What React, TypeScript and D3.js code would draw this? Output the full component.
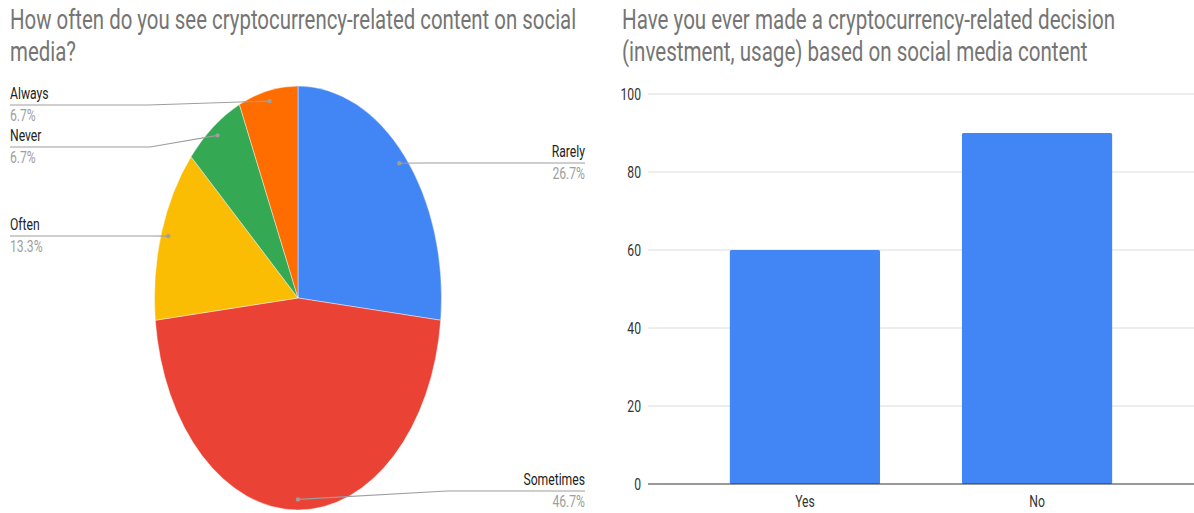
import React from "react";
import * as d3 from "d3";

const pieTitle = ["How often do you see cryptocurrency-related content on social", "media?"];
const barTitle = ["Have you ever made a cryptocurrency-related decision", "(investment, usage) based on social media content"];

const pieCategories = ["Rarely", "Sometimes", "Often", "Never", "Always"];
const pieValues = [26.7, 46.7, 13.3, 6.7, 6.7];
const pieColors = ["#4285F4", "#EA4335", "#FBBC04", "#34A853", "#FF6D01"];

const barCategories = ["Yes", "No"];
const barValues = [60, 90];
const yTicks = [0, 20, 40, 60, 80, 100];

const W = 1194;
const H = 513;
const SX = 0.76; // horizontal text compression seen in the picture
const FONT = "Roboto, Arial, sans-serif";

// label layout (positions only)
const labelLayout: Record<string, { side: "left" | "right"; lineY: number; elbowX: number; endX: number }> = {
  Rarely: { side: "right", lineY: 163, elbowX: 420, endX: 585 },
  Sometimes: { side: "right", lineY: 491, elbowX: 447, endX: 585 },
  Often: { side: "left", lineY: 236, elbowX: 150, endX: 10 },
  Never: { side: "left", lineY: 147, elbowX: 150, endX: 10 },
  Always: { side: "left", lineY: 105, elbowX: 148, endX: 10 },
};

function SText({ x, y, children, size, fill, anchor = "start", sx = SX, weight = 400 }: any) {
  return (
    <text
      transform={`translate(${x},${y}) scale(${sx},1)`}
      fontFamily={FONT}
      fontSize={size}
      fill={fill}
      fontWeight={weight}
      textAnchor={anchor}
    >
      {children}
    </text>
  );
}

export default function App() {
  // Pie
  const cx = 298;
  const cy = 298;
  const ry = 212;
  const rx = 143.5;
  const pie = d3.pie<number>().sort(null).value((d) => d)(pieValues);
  const arc = d3.arc<d3.PieArcDatum<number>>().innerRadius(0).outerRadius(ry);

  // Bars
  const y = d3.scaleLinear().domain([0, 100]).range([484, 94]);
  const x = d3.scaleBand<string>().domain(barCategories).range([689, 1153]).paddingInner(0.353).paddingOuter(0.176);

  return (
    <svg width={W} height={H} style={{ position: "absolute", left: 0, top: 0, background: "#fff" }}>
      <rect width={W} height={H} fill="#fff" />
      {/* Titles */}
      {pieTitle.map((t, i) => (
        <SText key={t} x={10} y={29 + i * 32} size={27} sx={0.756} fill="#757575">
          {t}
        </SText>
      ))}
      {barTitle.map((t, i) => (
        <SText key={t} x={622} y={29 + i * 32} size={27} sx={0.762} fill="#757575">
          {t}
        </SText>
      ))}

      {/* Pie */}
      <g transform={`translate(${cx},${cy}) scale(${rx / ry},1)`}>
        {pie.map((d, i) => (
          <path key={i} d={arc(d) || ""} fill={pieColors[i]} stroke="#fff" strokeWidth={0.5} />
        ))}
      </g>
      {pie.map((d, i) => {
        const name = pieCategories[i];
        const L = labelLayout[name];
        const mid = (d.startAngle + d.endAngle) / 2;
        const px = cx + rx * 0.95 * Math.sin(mid);
        const py = cy - ry * 0.95 * Math.cos(mid);
        const pts = `${px},${py} ${L.elbowX},${L.lineY} ${L.endX},${L.lineY}`;
        const anchor = L.side === "right" ? "end" : "start";
        return (
          <g key={name}>
            <polyline points={pts} fill="none" stroke="#9e9e9e" strokeWidth={1.2} />
            <circle cx={px} cy={py} r={2.2} fill="#9e9e9e" />
            <SText x={L.endX} y={L.lineY - 6} size={16} fill="#222" anchor={anchor}>
              {name}
            </SText>
            <SText x={L.endX} y={L.lineY + 16} size={16} fill="#9e9e9e" anchor={anchor}>
              {`${d.data.toFixed(1)}%`}
            </SText>
          </g>
        );
      })}

      {/* Bar chart */}
      {yTicks.map((t) => (
        <g key={t}>
          {t !== 0 && <line x1={648} x2={1194} y1={y(t)} y2={y(t)} stroke="#dcdcdc" strokeWidth={1} />}
          <SText x={641} y={y(t) + 6} size={16} fill="#333" anchor="end">
            {t}
          </SText>
        </g>
      ))}
      {barCategories.map((c, i) => (
        <rect key={c} x={x(c)} y={y(barValues[i])} width={x.bandwidth()} height={y(0) - y(barValues[i])} fill="#4285F4" rx={1.5} />
      ))}
      <line x1={648} x2={1194} y1={y(0)} y2={y(0)} stroke="#333" strokeWidth={1.2} />
      {barCategories.map((c) => (
        <SText key={c} x={(x(c) || 0) + x.bandwidth() / 2} y={507} size={16} fill="#333" anchor="middle">
          {c}
        </SText>
      ))}
    </svg>
  );
}
